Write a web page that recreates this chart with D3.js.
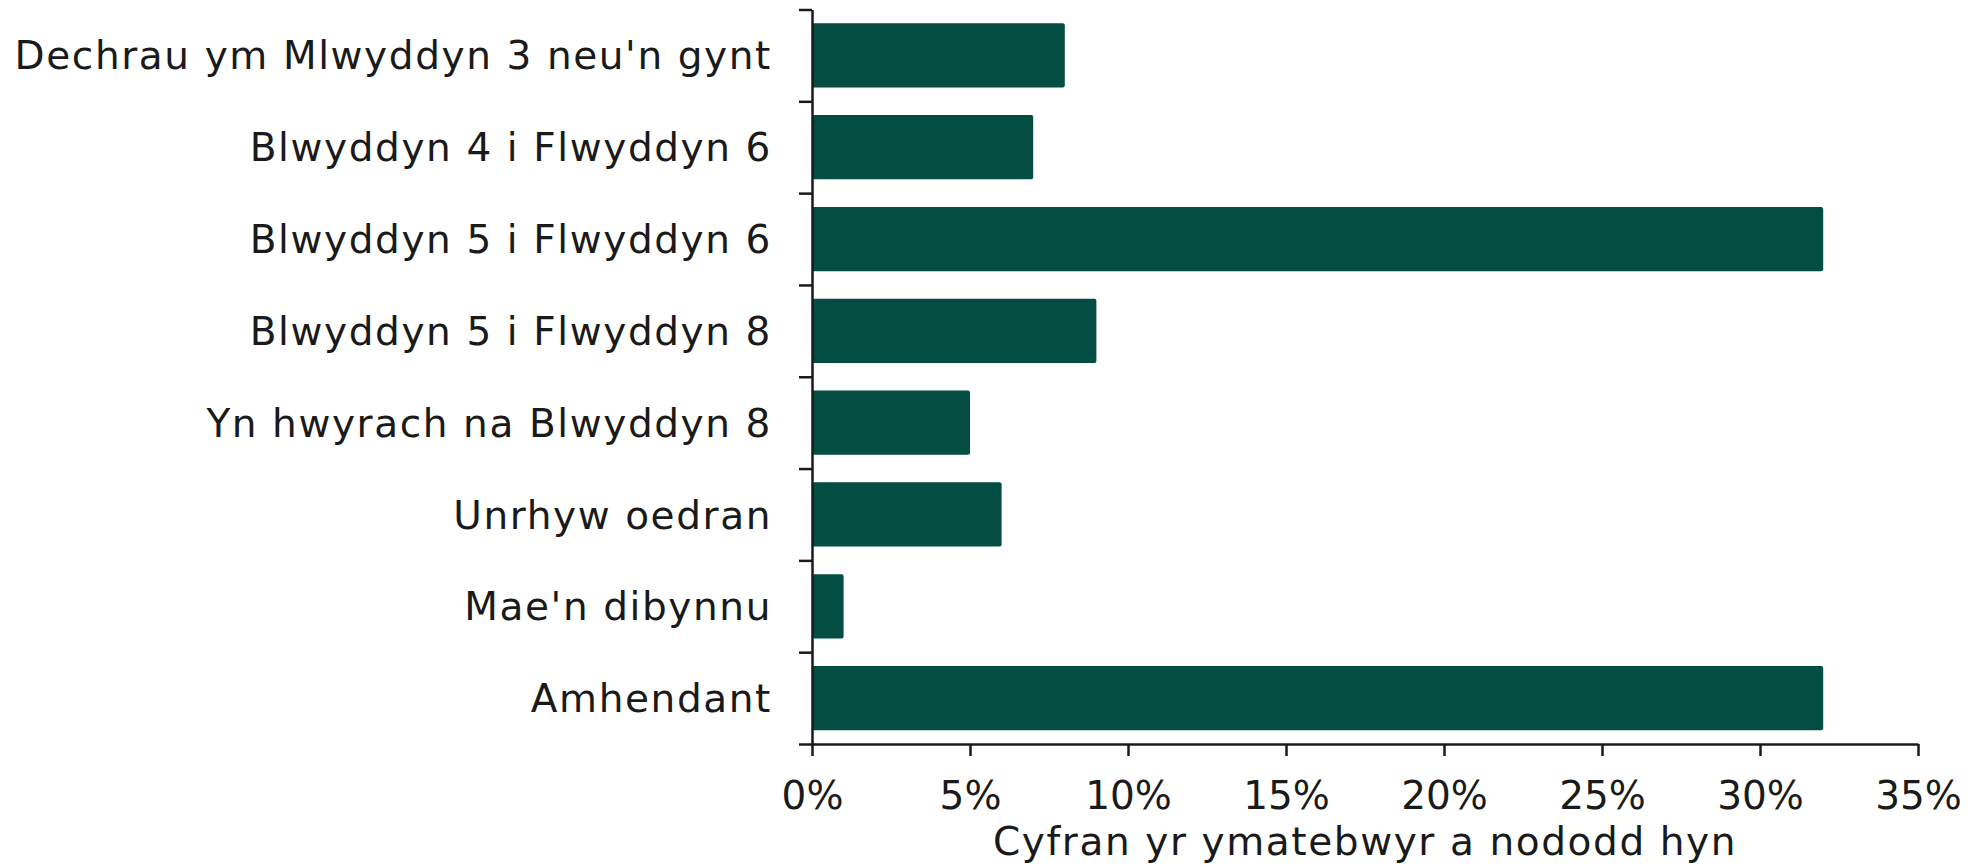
<!DOCTYPE html>
<html>
<head>
<meta charset="utf-8">
<script src="https://cdn.jsdelivr.net/npm/d3@7"></script>
<style>
  body { margin: 0; background: #fff; }
  svg text { font-family: "DejaVu Sans", sans-serif; fill: #1a1a1a; }
</style>
</head>
<body>
<div id="chart"></div>
<script>
// categories (top to bottom) and share of respondents (%)
const categories = [
  "Dechrau ym Mlwyddyn 3 neu'n gynt",
  "Blwyddyn 4 i Flwyddyn 6",
  "Blwyddyn 5 i Flwyddyn 6",
  "Blwyddyn 5 i Flwyddyn 8",
  "Yn hwyrach na Blwyddyn 8",
  "Unrhyw oedran",
  "Mae'n dibynnu",
  "Amhendant"
];
const values = [8, 7, 32, 9, 5, 6, 1, 32];
const xTicks = [0, 5, 10, 15, 20, 25, 30, 35];
const xTitle = "Cyfran yr ymatebwyr a nododd hyn";

const W = 1984, H = 867;
const margin = { top: 9.5, right: 66, bottom: 123, left: 812 };
const width = W - margin.left - margin.right;
const height = H - margin.top - margin.bottom;

const svg = d3.select("#chart")
  .append("svg")
  .attr("width", W)
  .attr("height", H)
  .append("g")
  .attr("transform", `translate(${margin.left},${margin.top})`);

// scales
const x = d3.scaleLinear().domain([0, 35]).range([0, width]);
const y = d3.scaleBand()
  .domain(categories)
  .range([0, height])
  .paddingInner(0.3)
  .paddingOuter(0.15);
// band boundaries, used for the tick marks on the y axis
const yEdge = d3.scaleLinear().domain([0, categories.length]).range([0, height]);

// bars
svg.selectAll("rect.bar")
  .data(values)
  .enter()
  .append("rect")
  .attr("class", "bar")
  .attr("x", x(0))
  .attr("y", (d, i) => y(categories[i]))
  .attr("width", d => x(d) - x(0))
  .attr("height", y.bandwidth())
  .attr("rx", 2)
  .style("fill", "#034d42");

// y axis: ticks at the band edges, labels in the middle of each band
const yAxis = svg.append("g")
  .call(d3.axisLeft(yEdge)
    .tickValues(d3.range(categories.length + 1))
    .tickFormat("")
    .tickSize(13)
    .tickSizeOuter(0));
yAxis.selectAll("line, path").attr("stroke", "#1a1a1a").attr("stroke-width", 2.5);

svg.append("g")
  .selectAll("text")
  .data(categories)
  .enter()
  .append("text")
  .attr("x", -40)
  .attr("y", d => y(d) + y.bandwidth() / 2)
  .attr("dy", "0.36em")
  .attr("text-anchor", "end")
  .style("font-size", "39px")
  .style("letter-spacing", "1.6px")
  .text(d => d);

// x axis
const xAxis = svg.append("g")
  .attr("transform", `translate(0,${height})`)
  .call(d3.axisBottom(x)
    .tickValues(xTicks)
    .tickFormat(d => d + "%")
    .tickSize(12)
    .tickSizeOuter(0)
    .tickPadding(25));
xAxis.selectAll("line, path").attr("stroke", "#1a1a1a").attr("stroke-width", 2.5);
xAxis.selectAll("text")
  .style("font-size", "39px")
  .attr("fill", "#1a1a1a");

svg.append("text")
  .attr("x", width / 2)
  .attr("y", height + 111)
  .attr("text-anchor", "middle")
  .style("font-size", "39px")
  .style("letter-spacing", "1.6px")
  .text(xTitle);
</script>
</body>
</html>
